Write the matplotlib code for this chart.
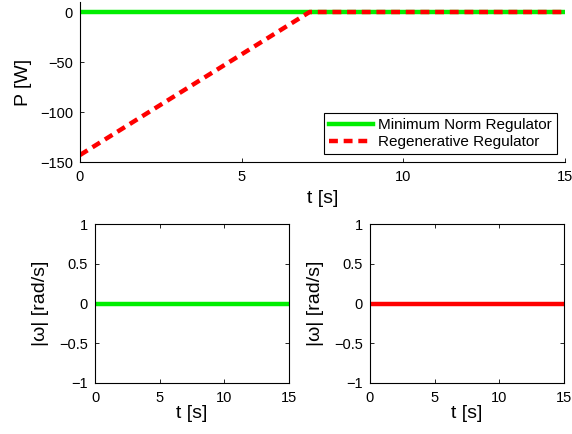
import matplotlib
matplotlib.use("Agg")
import matplotlib.pyplot as plt

plt.rcParams['font.family'] = ['Liberation Sans', 'DejaVu Sans']

# data
t = [0, 7.1, 15]
p_min_norm = [0, 0, 0]
p_regen = [-143, 0, 0]
omega_min_norm = [0, 0, 0]
omega_regen = [0, 0, 0]

verde = '#00ee00'
rosso = '#ff0000'
W, H = 572, 434

def px_axes(fig, x0, y0, x1, y1):
    # pixel box -> figure coords
    return fig.add_axes([x0 / W, 1 - y1 / H, (x1 - x0) / W, (y1 - y0) / H])

fig = plt.figure(figsize=(5.72, 4.34), dpi=100)

def stile(ax):
    ax.tick_params(direction='in', labelsize=10.5, length=3, width=0.6,
                   top=False, right=False)
    ax.tick_params(axis='x', pad=6)
    ax.tick_params(axis='y', pad=5)
    for s in ax.spines.values():
        s.set_linewidth(0.8)

# potenza
ax = px_axes(fig, 80, 2, 565, 162)
ax.plot(t, p_min_norm, color=verde, lw=3.2, label='Minimum Norm Regulator')
ax.plot(t, p_regen, color=rosso, lw=3.2, ls=(0, (2.0, 1.3)), label='Regenerative Regulator')
ax.set_xlim(0, 15)
ax.set_ylim(-150, 10)
ax.set_xticks([0, 5, 10, 15])
ax.set_yticks([-150, -100, -50, 0])
ax.spines['top'].set_visible(False)
ax.spines['right'].set_visible(False)
stile(ax)
ax.set_xlabel('t [s]', fontsize=14, labelpad=4)
ax.set_ylabel('P [W]', fontsize=14, labelpad=6)
leg = ax.legend(loc='lower right', fontsize=11, fancybox=False, framealpha=1,
                edgecolor='black', borderaxespad=0.55, handlelength=2.9,
                borderpad=0.3, labelspacing=0.2, handletextpad=0.35)
leg.get_frame().set_linewidth(0.8)

# velocita angolari
for (x0, x1), om, col in [((95, 289), omega_min_norm, verde),
                          ((370, 564), omega_regen, rosso)]:
    a = px_axes(fig, x0, 224, x1, 383)
    a.plot(t, om, color=col, lw=3.2)
    a.set_xlim(0, 15)
    a.set_ylim(-1, 1)
    a.set_xticks([0, 5, 10, 15])
    a.set_yticks([-1, -0.5, 0, 0.5, 1])
    a.set_yticklabels(['\u22121', '\u22120.5', '0', '0.5', '1'])
    stile(a)
    a.tick_params(top=True, right=True)
    a.set_xlabel('t [s]', fontsize=14, labelpad=0)
    a.set_ylabel('|\u03c9| [rad/s]', fontsize=14, labelpad=7)

fig.savefig('out.png', dpi=100)
